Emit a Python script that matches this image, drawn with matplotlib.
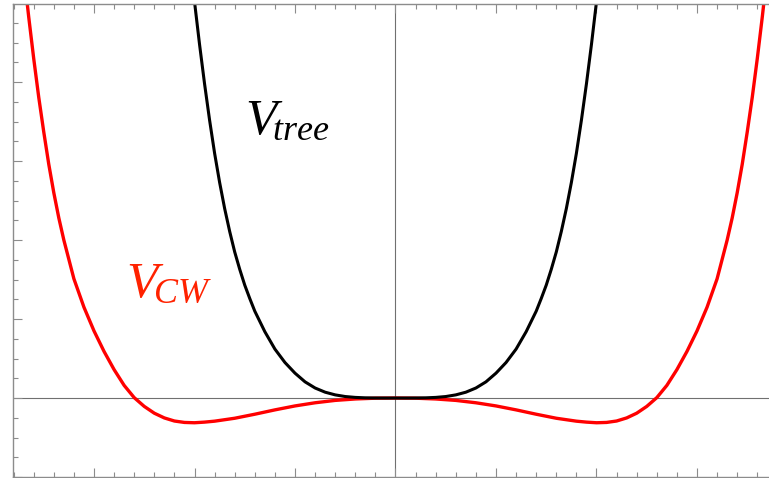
import matplotlib
matplotlib.use("Agg")
import matplotlib.pyplot as plt
from matplotlib.ticker import MultipleLocator

# curve values, in major-tick units on both axes
tree_x = [-2.05, -2.0, -1.95, -1.9, -1.85, -1.8, -1.75, -1.7, -1.65, -1.6,
          -1.55, -1.5, -1.45, -1.4, -1.3, -1.2, -1.1, -1.0, -0.9, -0.8,
          -0.7, -0.6, -0.5, -0.4, -0.3, -0.2, -0.1, 0.0,
          0.1, 0.2, 0.3, 0.4, 0.5, 0.6, 0.7, 0.8, 0.9, 1.0, 1.1, 1.2, 1.3,
          1.4, 1.45, 1.5, 1.55, 1.6, 1.65, 1.7, 1.75, 1.8, 1.85, 1.9, 1.95,
          2.0, 2.05]
tree_y = [5.6, 5.02, 4.48, 3.98, 3.52, 3.10, 2.73, 2.40, 2.11, 1.85,
          1.63, 1.43, 1.26, 1.10, 0.84, 0.62, 0.45, 0.315, 0.205, 0.127,
          0.074, 0.040, 0.019, 0.008, 0.0025, 0.0005, 0.0, 0.0,
          0.0, 0.0005, 0.0025, 0.008, 0.019, 0.040, 0.074, 0.127, 0.205,
          0.315, 0.45, 0.62, 0.84, 1.10, 1.26, 1.43, 1.63, 1.85, 2.11, 2.40,
          2.73, 3.10, 3.52, 3.98, 4.48, 5.02, 5.6]

cw_x = [-3.7, -3.65, -3.6, -3.55, -3.5, -3.45, -3.4, -3.35, -3.3, -3.2,
        -3.1, -3.0, -2.9, -2.8, -2.7, -2.6, -2.5, -2.4, -2.3, -2.2, -2.1,
        -2.0, -1.9, -1.8, -1.6, -1.4, -1.2, -1.0, -0.8, -0.6, -0.4, -0.2,
        0.0,
        0.2, 0.4, 0.6, 0.8, 1.0, 1.2, 1.4, 1.6, 1.8, 1.9, 2.0, 2.1, 2.2,
        2.3, 2.4, 2.5, 2.6, 2.7, 2.8, 2.9, 3.0, 3.1, 3.2, 3.3, 3.35, 3.4,
        3.45, 3.5, 3.55, 3.6, 3.65, 3.7]
cw_y = [5.40, 4.83, 4.30, 3.81, 3.37, 2.96, 2.60, 2.28, 2.00, 1.51,
        1.15, 0.85, 0.59, 0.36, 0.16, 0.005, -0.106, -0.192, -0.252, -0.291,
        -0.309, -0.313, -0.305, -0.293, -0.256, -0.205, -0.150, -0.100,
        -0.060, -0.030, -0.012, -0.002,
        0.0,
        -0.002, -0.012, -0.030, -0.060, -0.100, -0.150, -0.205, -0.256,
        -0.293, -0.305, -0.313, -0.309, -0.291, -0.252, -0.192, -0.106,
        0.005, 0.16, 0.36, 0.59, 0.85, 1.15, 1.51, 2.00, 2.28, 2.60, 2.96,
        3.37, 3.81, 4.30, 4.83, 5.40]

GRAY = "#8c8c8c"
LABEL_RED = "#ff2200"

plt.rcParams["mathtext.fontset"] = "custom"
plt.rcParams["mathtext.rm"] = "Liberation Serif"
plt.rcParams["mathtext.it"] = "Liberation Serif:italic"

fig = plt.figure(figsize=(7.69, 4.78), dpi=100)
ax = fig.add_axes([13 / 769, 1 / 478, 765 / 769, 473 / 478])

ax.plot(cw_x, cw_y, color="#ff0000", lw=2.4)
ax.plot(tree_x, tree_y, color="black", lw=2.2)

# axes through the origin
ax.axhline(0, color="#707070", lw=0.8, zorder=0)
ax.axvline(0, color="#707070", lw=0.8, zorder=0)

ax.set_xlim(-3.806, 3.806)
ax.set_ylim(-1.0, 4.99)

ax.xaxis.set_major_locator(MultipleLocator(1))
ax.xaxis.set_minor_locator(MultipleLocator(0.2))
ax.yaxis.set_major_locator(MultipleLocator(1))
ax.yaxis.set_minor_locator(MultipleLocator(0.25))
ax.tick_params(which="both", direction="in", top=True, right=True,
               labelbottom=False, labelleft=False, color=GRAY, width=0.8)
ax.tick_params(which="major", length=6.5)
ax.tick_params(which="minor", length=3.8)
for spine in ax.spines.values():
    spine.set_color(GRAY)
    spine.set_linewidth(1.0)

# curve labels
ax.text(-1.4975, 3.34, r"$V_{\!tree}$", fontsize=37, color="black",
        ha="left", va="baseline")
ax.text(-2.682, 1.275, r"$V_{\!CW}$", fontsize=37, color=LABEL_RED,
        ha="left", va="baseline")

fig.savefig("out.png", dpi=100)
